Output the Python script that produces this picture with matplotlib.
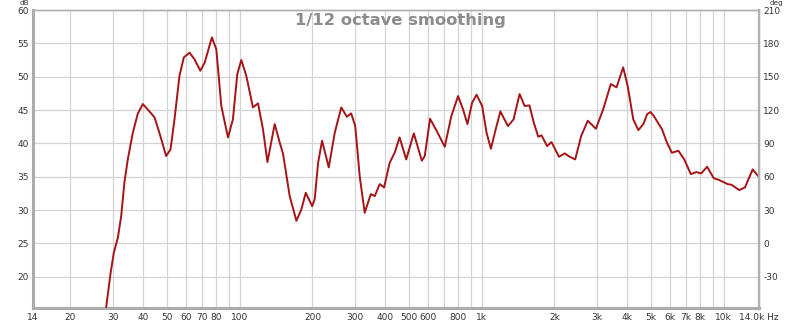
import matplotlib
matplotlib.use("Agg")
import matplotlib.pyplot as plt
from matplotlib.ticker import FixedLocator, FixedFormatter, NullLocator

# ---- data ----
freq_hz = [27.2, 28.1, 29.3, 30.2, 31.4, 32.4, 33.4, 34.5, 36.2, 37.9, 39.8, 41.7, 44.5, 46.6,
           49.7, 51.8, 53.8, 56.4, 58.8, 62.1, 65.1, 68.8, 71.7, 76.8, 80.1, 84.0, 89.5, 93.8,
           97.8, 101.6, 106.6, 113.5, 119.1, 124.9, 130.3, 139.6, 146.5, 151.2, 161.0, 171.6,
           179.9, 187.6, 199.3, 204.2, 211.0, 219.1, 233.5, 247.2, 263.0, 277.3, 289.0, 300.4,
           313.4, 328.7, 348.3, 361.6, 379.0, 395.1, 417.0, 437.1, 458.1, 487.9, 524.6, 566.0,
           582.0, 612.2, 651.4, 704.0, 749.6, 799.2, 838.1, 873.5, 913.4, 952.7, 1005, 1048,
           1092, 1143, 1195, 1284, 1355, 1435, 1506, 1576, 1643, 1714, 1768, 1864, 1944, 2086,
           2205, 2311, 2436, 2578, 2745, 2966, 3178, 3418, 3609, 3845, 4013, 4233, 4442, 4661,
           4830, 4991, 5150, 5394, 5565, 5833, 6111, 6502, 6875, 7317, 7712, 8077, 8546, 9094,
           9594, 10380, 10780, 11600, 12250, 13180, 13900]
spl_db = [13.0, 15.5, 20.6, 23.6, 25.9, 29.1, 34.1, 37.6, 41.6, 44.4, 45.9, 45.1, 43.9, 41.6,
          38.1, 39.1, 43.6, 50.1, 52.9, 53.6, 52.6, 50.9, 52.1, 55.9, 54.1, 45.6, 40.9, 43.6,
          50.4, 52.5, 50.1, 45.4, 46.0, 42.1, 37.2, 42.9, 40.1, 38.4, 32.1, 28.4,
          30.1, 32.6, 30.6, 31.6, 37.1, 40.4, 36.4, 41.6, 45.4, 44.0, 44.5, 42.6,
          35.1, 29.6, 32.4, 32.1, 33.9, 33.4, 37.1, 38.6, 40.9, 37.6, 41.5, 37.4,
          38.1, 43.7, 41.9, 39.5, 44.1, 47.1, 45.1, 42.9, 46.1, 47.3, 45.6, 41.6,
          39.2, 42.1, 44.8, 42.6, 43.6, 47.4, 45.6, 45.7, 43.1, 41.0, 41.2, 39.6, 40.2, 38.0,
          38.5, 38.0, 37.6, 41.1, 43.4, 42.2, 45.1, 48.9, 48.4, 51.4, 48.6, 43.6, 42.0, 42.9,
          44.4, 44.7, 44.1, 42.9, 42.1, 40.1, 38.6, 38.9, 37.6, 35.4, 35.7, 35.5, 36.5, 34.8,
          34.5, 33.9, 33.8, 33.0, 33.4, 36.1, 35.1]

grid_freqs = [20, 30, 40, 50, 60, 70, 80, 90, 100, 200, 300, 400, 500, 600, 700, 800, 900,
              1000, 2000, 3000, 4000, 5000, 6000, 7000, 8000, 9000, 10000]
xtick_freqs = [14, 20, 30, 40, 50, 60, 70, 80, 90, 100, 200, 300, 400, 500, 600, 700, 800, 900,
               1000, 2000, 3000, 4000, 5000, 6000, 7000, 8000, 9000, 10000, 14000]
xtick_labels = ["14", "20", "30", "40", "50", "60", "70", "80", "", "100", "200", "300", "400",
                "500", "600", "", "800", "", "1k", "2k", "3k", "4k", "5k", "6k", "7k", "8k", "",
                "10k", "14.0k Hz"]
db_ticks = [20, 25, 30, 35, 40, 45, 50, 55, 60]
deg_ticks = [-30, 0, 30, 60, 90, 120, 150, 180, 210]

title_text = "1/12 octave smoothing"

# ---- figure ----
fig = plt.figure(figsize=(8.0, 3.23), dpi=100)
ax = fig.add_axes([33 / 800, 15.5 / 323, (759 - 33) / 800, (308 - 10.5) / 323])
ax.set_xscale("log")
ax.set_xlim(14, 14000)
ymin, ymax = 15.4, 60
ax.set_ylim(ymin, ymax)

grid_c = "#d4d4d4"
for f in grid_freqs:
    ax.axvline(f, color=grid_c, lw=0.9, zorder=0)
for d in db_ticks[:-1]:
    ax.axhline(d, color=grid_c, lw=0.9, zorder=0)

ax.plot(freq_hz, spl_db, color="#a51416", lw=1.4, zorder=3, clip_on=True,
        solid_joinstyle="round")

ax.xaxis.set_major_locator(FixedLocator(xtick_freqs))
ax.xaxis.set_major_formatter(FixedFormatter(xtick_labels))
ax.xaxis.set_minor_locator(NullLocator())
ax.set_yticks(db_ticks)
ax.set_yticklabels([str(d) for d in db_ticks])
ax.tick_params(axis="both", length=0, labelsize=6.5, colors="#333333", pad=3)
ax.tick_params(axis="x", pad=4)

ax2 = ax.twinx()
ax2.set_ylim((ymin - 25) * 6, (ymax - 25) * 6)
ax2.set_yticks(deg_ticks)
ax2.set_yticklabels([str(d) for d in deg_ticks])
ax2.tick_params(axis="y", length=0, labelsize=6.5, colors="#333333", pad=3)

for a in (ax, ax2):
    for s in a.spines.values():
        s.set_color("#b0b0b0")
        s.set_linewidth(1.0)
ax.spines["left"].set_linewidth(2.2)
ax.spines["left"].set_color("#a8a8a8")
ax.spines["bottom"].set_linewidth(2.2)
ax.spines["bottom"].set_color("#a8a8a8")
ax2.spines["right"].set_linewidth(1.6)

fig.text(24 / 800, 1 - 0.3 / 323, "dB", fontsize=5.2, color="#333333", ha="center", va="top")
fig.text(777 / 800, 1 - 0.3 / 323, "deg", fontsize=5.2, color="#333333", ha="center", va="top")
fig.text(400 / 800, 1 - 20 / 323, title_text, fontsize=11.8, fontweight="bold",
         color="#8c8c8c", ha="center", va="center")

fig.savefig("out.png", dpi=100, facecolor="white")
